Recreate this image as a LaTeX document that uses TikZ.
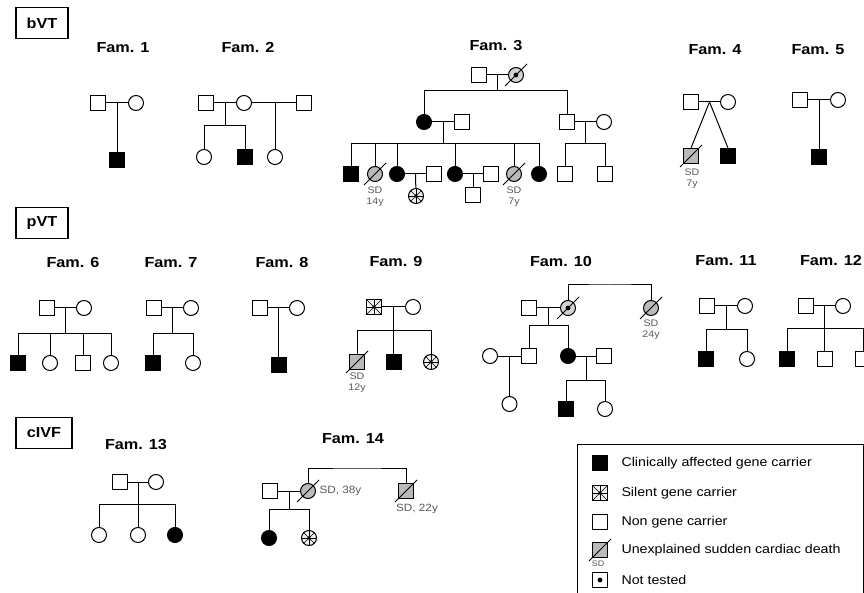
\documentclass[tikz,border=0pt]{standalone}
\usepackage{fontspec}
\newfontfamily\helv[FakeStretch=1.12]{Liberation Sans}
\usetikzlibrary{calc,positioning}

\newcommand{\deceased}[1]{\draw (#1.center) ++(-11pt,-11pt) -- ++(22pt,22pt);}

\begin{document}
\begin{tikzpicture}[
  x=1pt,y=-1pt,line width=1pt,
  every node/.style={font=\helv},
  male/.style={rectangle,draw,minimum size=15pt,inner sep=0pt},
  female/.style={circle,draw,minimum size=15pt,inner sep=0pt},
  aff/.style={fill=black},
  sd/.style={fill=gray!55},
  silent/.style={fill=gray!12,path picture={
    \foreach \a in {0,45,...,315}
      \draw[line width=0.5pt] (path picture bounding box.center) -- ++(\a:11pt);
    \fill[black] (path picture bounding box.center) circle (1.8pt);}},
  untested/.style={path picture={
    \fill[black] (path picture bounding box.center) circle (2.4pt);}},
  famlabel/.style={font={\helv\bfseries\fontsize{14.5}{16}\selectfont}},
  group/.style={draw,line width=1.3pt,minimum width=52pt,minimum height=31pt,
    font={\helv\bfseries\fontsize{14.5}{16}\selectfont}},
  sdtext/.style={inner sep=0pt,text=black!65,font={\helv\fontsize{9.5}{10}\selectfont}},
  legtext/.style={anchor=west,inner sep=0pt,font={\helv\fontsize{12.7}{14}\selectfont}}
]
  \useasboundingbox (0,0) rectangle (864,593);

  % groups
  \node[group] (bvt) at (42,23) {bVT};
  \node[group] (pvt) at (42,223) {pVT};
  \node[group,minimum width=56pt] (civf) at (44,433) {cIVF};

  % Fam. 1
  \node[famlabel] (t1) at (123,48) {Fam. 1};
  \node[male] (f1a) at (98,103) {};
  \node[female] (f1b) at (136,103) {};
  \node[male,aff] (f1c) at (117,160) {};
  \coordinate (f1m) at ($(f1a)!0.5!(f1b)$);
  \draw (f1a) -- (f1b);
  \draw (f1m) -- (f1c);

  % Fam. 2
  \node[famlabel] (t2) at (248,48) {Fam. 2};
  \node[male] (f2a) at (206,103) {};
  \node[female] (f2b) at (244,103) {};
  \node[male] (f2c) at (304,103) {};
  \node[female] (f2d) at (204,157) {};
  \node[male,aff] (f2e) at (245,157) {};
  \node[female] (f2f) at (275,157) {};
  \coordinate (f2m) at ($(f2a)!0.5!(f2b)$);
  \coordinate (f2s) at ($(f2m)+(0,23)$);
  \draw (f2a) -- (f2b) -- (f2c);
  \draw (f2m) -- (f2s);
  \draw (f2s) -| (f2d);
  \draw (f2s) -| (f2e);
  \draw (f2f |- f2b) -- (f2f);

  % Fam. 3
  \node[famlabel] (t3) at (496,46) {Fam. 3};
  \node[male] (f3a) at (479,75) {};
  \node[female,fill=gray!35,untested] (f3b) at (516,75) {};
  \node[female,aff] (f3c) at (424,122) {};
  \node[male] (f3d) at (462,122) {};
  \node[male] (f3e) at (567,122) {};
  \node[female] (f3f) at (604,122) {};
  \coordinate (f3m) at ($(f3a)!0.5!(f3b)$);
  \coordinate (f3s) at ($(f3m)+(0,16)$);
  \draw (f3a) -- (f3b);
  \draw (f3m) -- (f3s);
  \draw (f3s) -| (f3c);
  \draw (f3s) -| (f3e);
  \draw (f3c) -- (f3d);
  \draw (f3e) -- (f3f);
  \deceased{f3b}
  \node[male,aff] (f3i) at (351,174) {};
  \node[female,sd] (f3j) at (375,174) {};
  \node[female,aff] (f3k) at (397,174) {};
  \node[male] (f3l) at (434,174) {};
  \node[female,aff] (f3o) at (455,174) {};
  \node[male] (f3p) at (491,174) {};
  \node[female,sd] (f3q) at (514,174) {};
  \node[female,aff] (f3r) at (539,174) {};
  \coordinate (f3g) at ($(f3c)!0.5!(f3d)$);
  \coordinate (f3h) at ($(f3g)+(0,22)$);
  \draw (f3g) -- (f3h);
  \foreach \c in {f3i,f3j,f3k,f3o,f3q,f3r}
    \draw (f3h) -| (\c);
  \draw (f3k) -- (f3l);
  \draw (f3o) -- (f3p);
  \deceased{f3j}
  \deceased{f3q}
  \node[sdtext] (f3j1) at (375,190) {SD};
  \node[sdtext] (f3j2) at (375,202) {14y};
  \node[sdtext] (f3q1) at (514,190) {SD};
  \node[sdtext] (f3q2) at (514,202) {7y};
  \node[female,silent] (f3t) at (416,196) {};
  \node[male] (f3v) at (473,195) {};
  \coordinate (f3u) at ($(f3k)!0.5!(f3l)$);
  \coordinate (f3w) at ($(f3o)!0.5!(f3p)$);
  \draw (f3u) -- (f3t);
  \draw (f3w) -- (f3v);
  \node[male] (f3x) at (565,174) {};
  \node[male] (f3y) at (605,174) {};
  \coordinate (f3n) at ($(f3e)!0.5!(f3f)$);
  \coordinate (f3z) at ($(f3n)+(0,22)$);
  \draw (f3n) -- (f3z);
  \draw (f3z) -| (f3x);
  \draw (f3z) -| (f3y);

  % Fam. 4
  \node[famlabel] (t4) at (715,50) {Fam. 4};
  \node[male] (f4a) at (691,102) {};
  \node[female] (f4b) at (728,102) {};
  \node[male,sd] (f4c) at (691,156) {};
  \node[male,aff] (f4d) at (728,156) {};
  \coordinate (f4m) at ($(f4a)!0.5!(f4b)$);
  \draw (f4a) -- (f4b);
  \draw (f4m) -- (f4c.north);
  \draw (f4m) -- (f4d.north);
  \deceased{f4c}
  \node[sdtext] (f4c1) at (692,172) {SD};
  \node[sdtext] (f4c2) at (692,184) {7y};

  % Fam. 5
  \node[famlabel] (t5) at (818,50) {Fam. 5};
  \node[male] (f5a) at (800,100) {};
  \node[female] (f5b) at (838,100) {};
  \node[male,aff] (f5c) at (819,157) {};
  \coordinate (f5m) at ($(f5a)!0.5!(f5b)$);
  \draw (f5a) -- (f5b);
  \draw (f5m) -- (f5c);

  % Fam. 6
  \node[famlabel] (t6) at (73,263) {Fam. 6};
  \node[male] (f6a) at (47,308) {};
  \node[female] (f6b) at (84,308) {};
  \node[male,aff] (f6c) at (18,363) {};
  \node[female] (f6d) at (50,363) {};
  \node[male] (f6e) at (83,363) {};
  \node[female] (f6f) at (111,363) {};
  \coordinate (f6m) at ($(f6a)!0.5!(f6b)$);
  \coordinate (f6s) at ($(f6m)+(0,25)$);
  \draw (f6a) -- (f6b);
  \draw (f6m) -- (f6s);
  \foreach \c in {f6c,f6d,f6e,f6f}
    \draw (f6s) -| (\c);

  % Fam. 7
  \node[famlabel] (t7) at (171,263) {Fam. 7};
  \node[male] (f7a) at (154,308) {};
  \node[female] (f7b) at (191,308) {};
  \node[male,aff] (f7c) at (153,363) {};
  \node[female] (f7d) at (193,363) {};
  \coordinate (f7m) at ($(f7a)!0.5!(f7b)$);
  \coordinate (f7s) at ($(f7m)+(0,25)$);
  \draw (f7a) -- (f7b);
  \draw (f7m) -- (f7s);
  \draw (f7s) -| (f7c);
  \draw (f7s) -| (f7d);

  % Fam. 8
  \node[famlabel] (t8) at (282,263) {Fam. 8};
  \node[male] (f8a) at (260,308) {};
  \node[female] (f8b) at (297,308) {};
  \node[male,aff] (f8c) at (278.5,365) {};
  \coordinate (f8m) at ($(f8a)!0.5!(f8b)$);
  \draw (f8a) -- (f8b);
  \draw (f8m) -- (f8c);

  % Fam. 9
  \node[famlabel] (t9) at (396,262) {Fam. 9};
  \node[male,silent] (f9a) at (374,307) {};
  \node[female] (f9b) at (413,307) {};
  \node[male,sd] (f9c) at (357,362) {};
  \node[male,aff] (f9d) at (393.5,362) {};
  \node[female,silent] (f9e) at (431,362) {};
  \coordinate (f9m) at ($(f9a)!0.5!(f9b)$);
  \coordinate (f9s) at ($(f9m)+(0,23)$);
  \draw (f9a) -- (f9b);
  \draw (f9m) -- (f9d);
  \draw (f9s) -| (f9c);
  \draw (f9s) -| (f9e);
  \deceased{f9c}
  \node[sdtext] (f9c1) at (357,376) {SD};
  \node[sdtext] (f9c2) at (357,388) {12y};

  % Fam. 10
  \node[famlabel] (t10) at (561,262) {Fam. 10};
  \node[male] (f10a) at (529,308) {};
  \node[female,fill=gray!35,untested] (f10b) at (568,308) {};
  \node[female,sd] (f10k) at (651,308) {};
  \coordinate (f10u) at (610,285);
  \draw (f10a) -- (f10b);
  \draw (f10b) |- (f10u) -| (f10k);
  \deceased{f10b}
  \deceased{f10k}
  \node[sdtext] (f10k1) at (651,323) {SD};
  \node[sdtext] (f10k2) at (651,335) {24y};
  \node[male] (f10c) at (529,356) {};
  \node[female,aff] (f10d) at (568,356) {};
  \coordinate (f10m) at ($(f10a)!0.5!(f10b)$);
  \coordinate (f10s) at ($(f10m)+(0,18)$);
  \draw (f10m) -- (f10s);
  \draw (f10s) -| (f10c);
  \draw (f10s) -| (f10d);
  \node[female] (f10e) at (490,356) {};
  \node[female] (f10f) at (509.5,404) {};
  \coordinate (f10g) at ($(f10e)!0.5!(f10c)$);
  \draw (f10e) -- (f10c);
  \draw (f10g) -- (f10f);
  \node[male] (f10h) at (604,356) {};
  \node[male,aff] (f10i) at (566,409) {};
  \node[female] (f10j) at (605,409) {};
  \coordinate (f10n) at ($(f10d)!0.5!(f10h)$);
  \coordinate (f10o) at ($(f10n)+(0,24)$);
  \draw (f10d) -- (f10h);
  \draw (f10n) -- (f10o);
  \draw (f10o) -| (f10i);
  \draw (f10o) -| (f10j);

  % Fam. 11
  \node[famlabel] (t11) at (726,261) {Fam. 11};
  \node[male] (f11a) at (707,306) {};
  \node[female] (f11b) at (745,306) {};
  \node[male,aff] (f11c) at (706,359) {};
  \node[female] (f11d) at (747,359) {};
  \coordinate (f11m) at ($(f11a)!0.5!(f11b)$);
  \coordinate (f11s) at ($(f11m)+(0,23)$);
  \draw (f11a) -- (f11b);
  \draw (f11m) -- (f11s);
  \draw (f11s) -| (f11c);
  \draw (f11s) -| (f11d);

  % Fam. 12
  \node[famlabel] (t12) at (831,261) {Fam. 12};
  \node[male] (f12a) at (806,306) {};
  \node[female] (f12b) at (843,306) {};
  \node[male,aff] (f12c) at (787,359) {};
  \node[male] (f12d) at (824.5,359) {};
  \node[male] (f12e) at (863,359) {};
  \coordinate (f12m) at ($(f12a)!0.5!(f12b)$);
  \coordinate (f12s) at ($(f12m)+(0,22)$);
  \draw (f12a) -- (f12b);
  \draw (f12m) -- (f12d);
  \draw (f12s) -| (f12c);
  \draw (f12s) -| (f12e);

  % Fam. 13
  \node[famlabel] (t13) at (136,445) {Fam. 13};
  \node[male] (f13a) at (120,482) {};
  \node[female] (f13b) at (156,482) {};
  \node[female] (f13c) at (99,535) {};
  \node[female] (f13d) at (138,535) {};
  \node[female,aff] (f13e) at (175,535) {};
  \coordinate (f13m) at ($(f13a)!0.5!(f13b)$);
  \coordinate (f13s) at ($(f13m)+(0,22)$);
  \draw (f13a) -- (f13b);
  \draw (f13m) -- (f13d);
  \draw (f13s) -| (f13c);
  \draw (f13s) -| (f13e);

  % Fam. 14
  \node[famlabel] (t14) at (353,439) {Fam. 14};
  \node[male] (f14a) at (270,491) {};
  \node[female,sd] (f14b) at (308,491) {};
  \node[male,sd] (f14c) at (406,491) {};
  \coordinate (f14u) at (357,468);
  \draw (f14a) -- (f14b);
  \draw (f14b) |- (f14u) -| (f14c);
  \deceased{f14b}
  \deceased{f14c}
  \node[sdtext,anchor=west,font={\helv\fontsize{10.5}{11}\selectfont}] (f14b1) at (319,491) {SD, 38y};
  \node[sdtext,font={\helv\fontsize{10.5}{11}\selectfont}] (f14c1) at (417,509) {SD, 22y};
  \node[female,aff] (f14d) at (269,538) {};
  \node[female,silent] (f14e) at (309,538) {};
  \coordinate (f14m) at ($(f14a)!0.5!(f14b)$);
  \coordinate (f14s) at ($(f14m)+(0,18)$);
  \draw (f14m) -- (f14s);
  \draw (f14s) -| (f14d);
  \draw (f14s) -| (f14e);

  % legend
  \node[draw,minimum width=286pt,minimum height=170pt,anchor=north west] (leg) at (577,444) {};
  \node[male,aff] (k1) at (600,463) {};
  \node[male,silent] (k2) at (600,493) {};
  \node[male] (k3) at (600,522) {};
  \node[male,sd] (k4) at (600,550) {};
  \node[male,untested] (k5) at (600,580) {};
  \deceased{k4}
  \node[sdtext,font={\helv\fontsize{8}{9}\selectfont}] (k4s) at (598,564) {SD};
  \node[legtext] (l1) at (621,463) {Clinically affected gene carrier};
  \node[legtext] (l2) at (621,493) {Silent gene carrier};
  \node[legtext] (l3) at (621,522) {Non gene carrier};
  \node[legtext] (l4) at (621,550) {Unexplained sudden cardiac death};
  \node[legtext] (l5) at (621,580) {Not tested};
\end{tikzpicture}
\end{document}
